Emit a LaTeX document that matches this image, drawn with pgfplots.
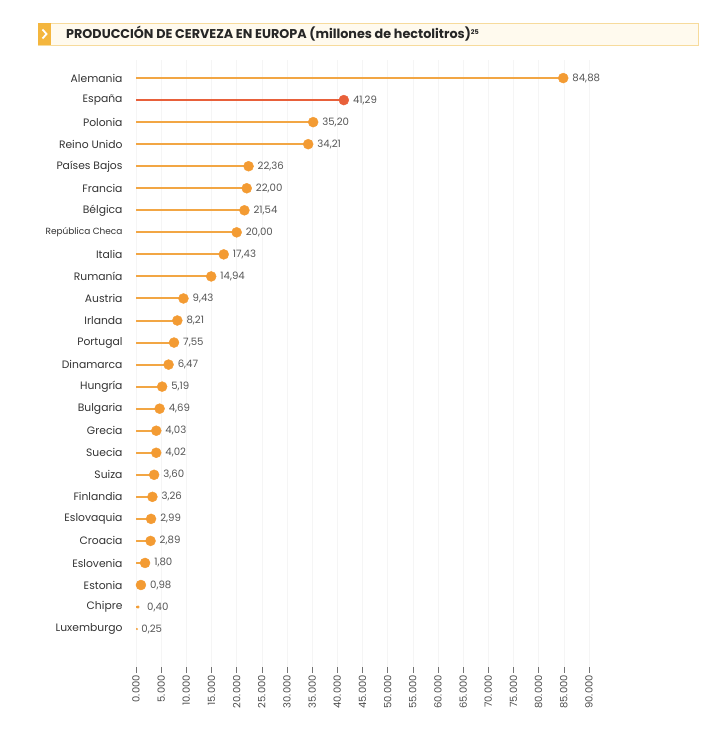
\documentclass[border=0pt]{standalone}
\usepackage{pgfplots}
\pgfplotsset{compat=1.18}
\usepackage{pgfplotstable}
\usepackage{fontspec}
\setmainfont{Poppins}
\definecolor{stem}{HTML}{F2A644}
\definecolor{dot}{HTML}{F39B33}
\definecolor{spain}{HTML}{E8603A}
\definecolor{lbl}{HTML}{333333}
\definecolor{val}{HTML}{555555}
\definecolor{tab}{HTML}{F4B63E}
\definecolor{boxfill}{HTML}{FFFAEE}
\definecolor{boxline}{HTML}{F7DB9C}

% idx = fila (0 arriba), val = millones de hl
\pgfplotstableread{
idx val lab
0 84.88 84,88
2 35.20 35,20
3 34.21 34,21
4 22.36 22,36
5 22.00 22,00
6 21.54 21,54
7 20.00 20,00
8 17.43 17,43
9 14.94 14,94
10 9.43 9,43
11 8.21 8,21
12 7.55 7,55
13 6.47 6,47
14 5.19 5,19
15 4.69 4,69
16 4.03 4,03
17 4.02 4,02
18 3.60 3,60
19 3.26 3,26
20 2.99 2,99
21 2.89 2,89
22 1.80 1,80
23 0.98 0,98
}\resto
\pgfplotstableread{
idx val lab
1 41.29 41,29
}\espana
\pgfplotstableread{
idx val lab
24 0.40 0,40
}\chipre
\pgfplotstableread{
idx val lab
25 0.25 0,25
}\luxemburgo

\begin{document}
\begin{tikzpicture}
\begin{scope}[x=1bp,y=1bp]
\path[use as bounding box] (0,0) rectangle (720,751);
% cabecera
\draw[boxline, fill=boxfill, line width=0.8bp] (38,706) rectangle (698,728);
\fill[tab] (38,706) rectangle (51,728);
\draw[white, line width=1.8bp] (42.5,721.5) -- (46.5,717) -- (42.5,712.5);
\node[anchor=west, text=black!85, font=\bfseries\fontsize{12.8}{14}\selectfont, inner sep=0] at (66,717.5)
  {PRODUCCIÓN DE CERVEZA EN EUROPA (millones de hectolitros)\textsuperscript{\fontsize{6.5}{7}\selectfont 25}};
\end{scope}

\begin{axis}[
  at={(136bp,84bp)}, anchor=south west,
  scale only axis, width=453bp, height=607bp,
  xmin=0, xmax=90, ymin=-26.72, ymax=0.82,
  axis line style={draw=none},
  xtick pos=lower,
  xtick={0,5,...,90},
  xticklabels={0.000,5.000,10.000,15.000,20.000,25.000,30.000,35.000,40.000,45.000,50.000,55.000,60.000,65.000,70.000,75.000,80.000,85.000,90.000},
  x tick label style={rotate=90, anchor=east, font=\fontsize{10}{11}\selectfont, text=black!70, inner sep=2bp},
  tick align=outside, major tick length=6bp,
  x tick style={black!55, line width=0.6bp},
  xmajorgrids, grid style={black!4, line width=0.6bp},
  ytick={-25,...,0},
  yticklabels={Luxemburgo,Chipre,Estonia,Eslovenia,Croacia,Eslovaquia,Finlandia,Suiza,Suecia,Grecia,Bulgaria,Hungría,Dinamarca,Portugal,Irlanda,Austria,Rumanía,Italia,{\fontsize{9}{10}\selectfont República Checa},Bélgica,Francia,Países Bajos,Reino Unido,Polonia,España,Alemania},
  y tick label style={anchor=east, font=\fontsize{10.8}{12}\selectfont, text=lbl, xshift=-4bp},
  y tick style={draw=none},
  clip=false,
  point meta=explicit symbolic,
  nodes near coords,
  every node near coord/.append style={anchor=west, font=\fontsize{10.2}{11}\selectfont, text=val, inner sep=1bp},
]
\addplot[xcomb, draw=stem, line width=2bp, mark=none, nodes near coords=] table[x=val, y expr=-\thisrow{idx}] {\resto};
\addplot[xcomb, draw=stem, line width=2bp, mark=none, nodes near coords=] table[x=val, y expr=-\thisrow{idx}] {\chipre};
\addplot[xcomb, draw=stem, line width=2bp, mark=none, nodes near coords=] table[x=val, y expr=-\thisrow{idx}] {\luxemburgo};
\addplot[xcomb, draw=spain, line width=2.8bp, mark=none, nodes near coords=] table[x=val, y expr=-\thisrow{idx}] {\espana};
\addplot[only marks, mark=*, mark size=5bp, color=dot,
  every node near coord/.append style={xshift=8bp}] table[x=val, y expr=-\thisrow{idx}, meta=lab] {\resto};
\addplot[only marks, mark=*, mark size=5bp, color=spain,
  every node near coord/.append style={xshift=8bp}] table[x=val, y expr=-\thisrow{idx}, meta=lab] {\espana};
\addplot[only marks, mark=*, mark size=1.3bp, color=dot,
  every node near coord/.append style={xshift=8bp}] table[x=val, y expr=-\thisrow{idx}, meta=lab] {\chipre};
\addplot[only marks, mark=*, mark size=0.7bp, color=dot!70,
  every node near coord/.append style={xshift=3bp}] table[x=val, y expr=-\thisrow{idx}, meta=lab] {\luxemburgo};
\end{axis}
\end{tikzpicture}
\end{document}
